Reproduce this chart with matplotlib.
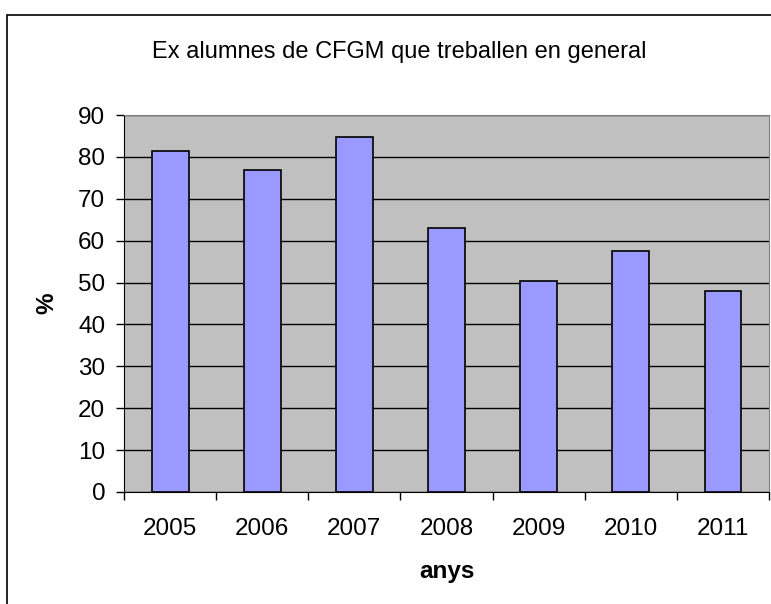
import numpy as np
import matplotlib
matplotlib.use('Agg')
from matplotlib import pyplot as plt
from matplotlib.patches import Rectangle

years = ['2005', '2006', '2007', '2008', '2009', '2010', '2011']
percent = [81.4, 76.9, 84.8, 63.0, 50.4, 57.5, 47.9]

plt.rcParams['font.family'] = ['Liberation Sans', 'DejaVu Sans']

fig = plt.figure(figsize=(7.71, 6.04), dpi=100)
fig.patch.set_facecolor('white')

# outer chart frame (runs past the right and bottom edges)
fig.patches.append(Rectangle((7 / 771, -0.05), 1.1, 1 - 15 / 604 + 0.05,
                             transform=fig.transFigure, fill=False,
                             edgecolor='black', linewidth=1.2))

ax = fig.add_axes([124 / 771, 1 - 492 / 604, (769 - 124) / 771, (492 - 115) / 604])
ax.set_facecolor('#C0C0C0')

x = np.arange(len(years))
ax.bar(x, percent, width=0.40, color='#9999FF', edgecolor='black', linewidth=1.2, zorder=3)

ax.set_xlim(-0.5, len(years) - 0.5)
ax.set_ylim(0, 90)
ax.set_yticks(np.arange(0, 91, 10))
ax.yaxis.grid(True, color='black', linewidth=1.0, zorder=1)
ax.set_axisbelow(True)

# ticks between categories, labels centered under bars
ax.set_xticks(np.arange(-0.5, len(years), 1.0))
ax.set_xticklabels([])
ax.set_xticks(x, minor=True)
ax.set_xticklabels(years, minor=True)
ax.tick_params(axis='x', which='major', direction='out', length=5.5, width=1)
ax.tick_params(axis='x', which='minor', length=0, pad=19, labelsize=17.5)
ax.tick_params(axis='y', direction='out', length=5.5, width=1, labelsize=17.5, pad=8)

for s in ['top', 'right']:
    ax.spines[s].set_color('#808080')
for s in ['left', 'bottom']:
    ax.spines[s].set_color('black')

ax.set_ylabel('%', fontsize=17.5, fontweight='bold', labelpad=14)
ax.set_xlabel('anys', fontsize=17.5, fontweight='bold', labelpad=14)

fig.text(399 / 771, 1 - 52 / 604, 'Ex alumnes de CFGM que treballen en general',
         ha='center', va='center', fontsize=17)

fig.savefig('out.png', dpi=100)
